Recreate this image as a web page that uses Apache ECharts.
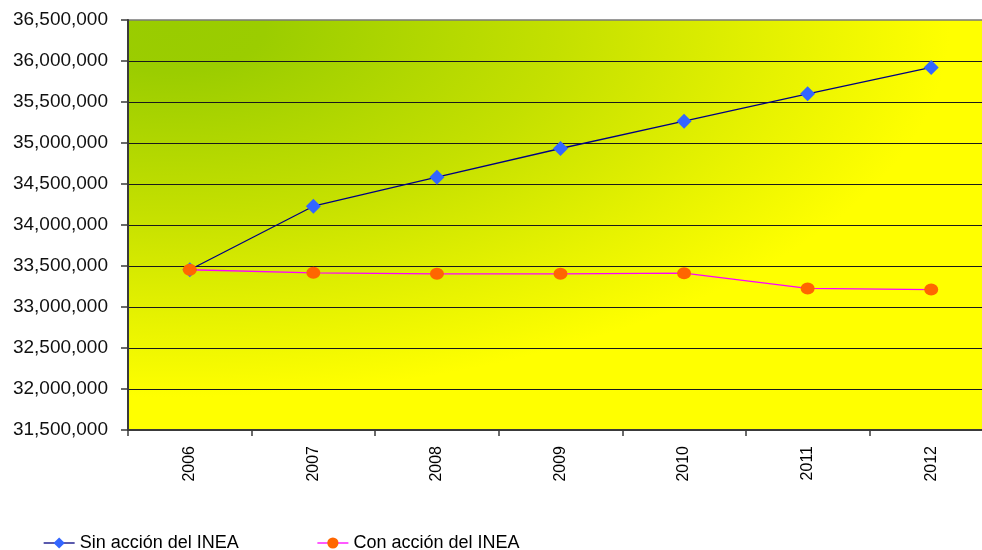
<!DOCTYPE html>
<html>
<head>
<meta charset="utf-8">
<script src="https://cdn.jsdelivr.net/npm/echarts@6/dist/echarts.min.js"></script>
<style>
  html, body { margin: 0; padding: 0; background: #fff; overflow: hidden; }
  #chart { width: 1000px; height: 550px; }
</style>
</head>
<body>
<div id="chart"></div>
<script>
// Años y población estimada (personas) para los dos escenarios
const years = ['2006', '2007', '2008', '2009', '2010', '2011', '2012'];
const sinAccion = [33454000, 34229000, 34583000, 34933000, 35266000, 35600000, 35921000];
const conAccion = [33454000, 33417000, 33405000, 33405000, 33412000, 33226000, 33213000];
const seriesNames = ['Sin acción del INEA', 'Con acción del INEA'];

const FONT = '"Liberation Sans", Arial, sans-serif';

// Área de trazado
const PLOT = { left: 128, top: 20, width: 865, height: 410 };

const chart = echarts.init(document.getElementById('chart'), null, { renderer: 'canvas' });

chart.setOption({
  animation: false,
  backgroundColor: '#ffffff',
  // Fondo degradado verde→amarillo: un cuadrado con degradado radial
  // aplastado verticalmente para que el degradado siga la forma del área
  graphic: [{
    type: 'rect',
    z: -10,
    silent: true,
    x: PLOT.left,
    y: PLOT.top,
    scaleY: PLOT.height / PLOT.width,
    shape: { x: 0, y: 0, width: PLOT.width, height: PLOT.width },
    style: {
      fill: {
        type: 'radial',
        x: 0.05, y: 0.02, r: 0.9,
        colorStops: [
          { offset: 0, color: '#99cc00' },
          { offset: 0.12, color: '#9bcd00' },
          { offset: 0.5, color: '#c4e000' },
          { offset: 0.8, color: '#e8f300' },
          { offset: 1, color: '#ffff00' }
        ]
      }
    }
  }],
  grid: {
    left: PLOT.left,
    top: PLOT.top,
    width: PLOT.width,
    height: PLOT.height,
    show: true,
    borderWidth: 1.5,
    borderColor: '#7a7a7a',
    backgroundColor: 'transparent'
  },
  legend: {
    left: 38,
    top: 529,
    itemWidth: 31,
    itemHeight: 14,
    itemGap: 78,
    lineStyle: { width: 1.3 },
    textStyle: { fontFamily: FONT, fontSize: 18, color: '#000' },
    data: seriesNames
  },
  xAxis: {
    type: 'category',
    data: years,
    boundaryGap: true,
    axisLine: { lineStyle: { color: '#3a3a3a', width: 2 } },
    axisTick: { show: true, length: 6, lineStyle: { color: '#3a3a3a', width: 1.5 } },
    axisLabel: {
      rotate: 90,
      margin: 16,
      fontFamily: FONT,
      fontSize: 16,
      color: '#000'
    },
    splitLine: { show: false }
  },
  yAxis: {
    type: 'value',
    min: 31500000,
    max: 36500000,
    interval: 500000,
    axisLine: { show: true, lineStyle: { color: '#3a3a3a', width: 2 } },
    axisTick: { show: true, length: 7, lineStyle: { color: '#3a3a3a', width: 1.5 } },
    axisLabel: {
      margin: 20,
      fontFamily: FONT,
      fontSize: 19,
      color: '#111',
      formatter: v => v.toLocaleString('en-US')
    },
    splitLine: {
      show: true,
      showMaxLine: false,
      lineStyle: { color: '#1a1a1a', width: 1.2 }
    }
  },
  series: [
    {
      name: seriesNames[0],
      type: 'line',
      data: sinAccion,
      symbol: 'diamond',
      symbolSize: 15,
      lineStyle: { color: '#000080', width: 1.3 },
      itemStyle: { color: '#3366ff' },
      z: 3
    },
    {
      name: seriesNames[1],
      type: 'line',
      data: conAccion,
      symbol: 'circle',
      symbolSize: [14, 12],
      lineStyle: { color: '#ff00ff', width: 1.3 },
      itemStyle: { color: '#ff6600' },
      z: 4
    }
  ]
});
</script>
</body>
</html>
